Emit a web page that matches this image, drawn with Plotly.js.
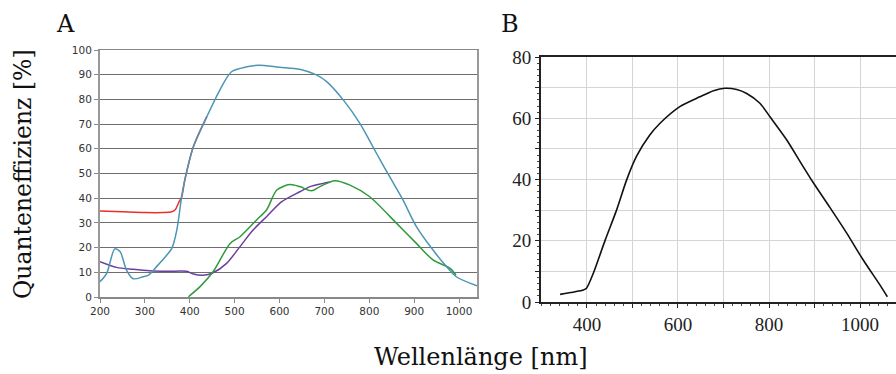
<!DOCTYPE html>
<html>
<head>
<meta charset="utf-8">
<script src="https://cdn.plot.ly/plotly-3.0.1.min.js"></script>
<style>html,body{margin:0;padding:0;background:#fff;}#chart{width:896px;height:374px;}</style>
</head>
<body>
<div id="chart"></div>
<script>
// Panel A: quantum efficiency curves (wavelength nm, efficiency %)
const blueX = [200, 215, 233, 245, 259, 274, 296, 308, 326, 349, 360, 371, 382, 389, 408, 438, 467, 493, 527, 553, 600, 645, 682, 705, 742, 779, 816, 846, 875, 905, 942, 972, 994, 1040];
const blueY = [6.2, 9.6, 19.5, 18.3, 10.9, 7.4, 8.2, 8.9, 12.3, 17.0, 19.7, 27.0, 40.6, 47.4, 60.8, 73.0, 83.8, 91.2, 93.2, 93.8, 93.0, 92.2, 89.9, 87.2, 79.8, 70.3, 58.2, 48.5, 39.3, 28.5, 19.0, 12.3, 8.2, 4.5];

const redX = [200, 250, 300, 340, 360, 367, 376, 382, 389, 408, 438];
const redY = [34.8, 34.5, 34.2, 34.2, 34.5, 35.2, 38.5, 40.6, 47.4, 60.8, 73.0];

const purpleX = [200, 237, 274, 311, 349, 393, 408, 430, 452, 482, 512, 541, 571, 605, 645, 668, 697, 712];
const purpleY = [14.3, 12.0, 11.2, 10.6, 10.4, 10.4, 9.3, 8.8, 9.8, 13.6, 20.4, 27.1, 32.5, 38.6, 42.6, 44.7, 46.0, 46.6];

const greenX = [397, 423, 452, 490, 512, 549, 571, 594, 623, 645, 671, 690, 723, 757, 801, 861, 905, 942, 980, 993];
const greenY = [0.1, 4.2, 10.2, 21.7, 24.4, 31.2, 35.2, 43.3, 45.5, 44.7, 43.0, 44.7, 47.1, 45.3, 40.6, 29.8, 21.7, 15.0, 11.6, 8.9];

// Panel B: quantum efficiency curve
const bX = [341, 392, 399, 414, 440, 465, 487, 509, 538, 560, 604, 648, 678, 703, 729, 751, 780, 802, 839, 875, 897, 934, 971, 1007, 1044, 1060];
const bY = [2.5, 3.9, 4.5, 9.4, 20.2, 30.0, 39.8, 47.6, 54.5, 58.3, 63.8, 67.0, 69.0, 69.8, 69.4, 68.1, 64.9, 60.5, 52.9, 44.2, 39.0, 30.8, 22.4, 13.7, 5.5, 1.7];

// Tick labels
const aXTicks = [200, 300, 400, 500, 600, 700, 800, 900, 1000];
const aYTicks = [0, 10, 20, 30, 40, 50, 60, 70, 80, 90, 100];
const bXTickVals = [400, 500, 600, 700, 800, 900, 1000];
const bXTickText = ['400', '', '600', '', '800', '', '1000'];
const bYTickVals = [0, 10, 20, 30, 40, 50, 60, 70, 80];
const bYTickText = ['0', '', '20', '', '40', '', '60', '', '80'];

const W = 896, H = 374;
const px = v => v / W;
const py = v => 1 - v / H;

const mk = (x, y, color, xa, ya, width, sm) => ({
  x: x, y: y, type: 'scatter', mode: 'lines', xaxis: xa, yaxis: ya,
  line: {color: color, width: width || 1.5, shape: 'spline', smoothing: sm || 0.8},
  hoverinfo: 'skip', showlegend: false
});

const traces = [
  mk(redX, redY, '#e8302a', 'x', 'y'),
  mk(purpleX, purpleY, '#6a3fa0', 'x', 'y'),
  mk(greenX, greenY, '#2f9a3a', 'x', 'y'),
  mk(blueX, blueY, '#4b95b5', 'x', 'y'),
  mk(bX, bY, '#111111', 'x2', 'y2', 1.6, 0.7)
];

const sans = {family: 'DejaVu Sans', size: 10.5, color: '#333'};
const serif = {family: 'Liberation Serif', size: 19, color: '#222'};

const layout = {
  width: W, height: H,
  margin: {l: 0, r: 0, t: 0, b: 0},
  paper_bgcolor: '#fff', plot_bgcolor: '#fff',
  showlegend: false,
  xaxis: {
    domain: [px(100), px(477)], range: [200, 1040],
    tickmode: 'array', tickvals: aXTicks, ticktext: aXTicks.map(String),
    ticks: 'outside', ticklen: 4, tickcolor: '#888',
    showline: true, linecolor: '#888', linewidth: 1.5, mirror: true,
    showgrid: false, zeroline: false, tickfont: sans, anchor: 'y'
  },
  yaxis: {
    domain: [py(297), py(50)], range: [0, 100],
    tickmode: 'array', tickvals: aYTicks, ticktext: aYTicks.map(String),
    ticks: 'outside', ticklen: 4, tickcolor: '#888',
    showline: true, linecolor: '#999', linewidth: 2, mirror: true,
    showgrid: true, gridcolor: '#6e6e6e', gridwidth: 1,
    zeroline: false, tickfont: sans, anchor: 'x'
  },
  xaxis2: {
    domain: [px(541), 1], range: [299, 1079],
    tickmode: 'array', tickvals: bXTickVals, ticktext: bXTickText,
    ticks: 'outside', ticklen: 4, tickcolor: '#222',
    minor: {dtick: 20, tick0: 300, ticks: 'outside', ticklen: 2, tickcolor: '#444', showgrid: false},
    showline: true, linecolor: '#222', linewidth: 2, mirror: true,
    showgrid: true, gridcolor: '#d4d4d4', gridwidth: 1,
    zeroline: false, tickfont: serif, anchor: 'y2'
  },
  yaxis2: {
    domain: [py(302), py(57)], range: [0, 80],
    tickmode: 'array', tickvals: bYTickVals, ticktext: bYTickText,
    ticks: 'outside', ticklen: 4, tickcolor: '#222',
    minor: {dtick: 2, tick0: 0, ticks: 'outside', ticklen: 2, tickcolor: '#444', showgrid: false},
    showline: true, linecolor: '#222', linewidth: 2, mirror: false,
    showgrid: true, gridcolor: '#d4d4d4', gridwidth: 1,
    zeroline: false, tickfont: serif, anchor: 'x2'
  },
  annotations: [
    {text: 'A', x: px(65), y: py(24), xref: 'paper', yref: 'paper', showarrow: false,
     xanchor: 'center', yanchor: 'middle', font: {family: 'DejaVu Serif', size: 24, color: '#111'}},
    {text: 'B', x: px(510), y: py(24), xref: 'paper', yref: 'paper', showarrow: false,
     xanchor: 'center', yanchor: 'middle', font: {family: 'DejaVu Serif', size: 24, color: '#111'}},
    {text: 'Wellenlänge [nm]', x: px(481), y: py(357), xref: 'paper', yref: 'paper', showarrow: false,
     xanchor: 'center', yanchor: 'middle', font: {family: 'DejaVu Serif', size: 24, color: '#111'}},
    {text: 'Quanteneffizienz [%]', x: px(23), y: py(174), xref: 'paper', yref: 'paper', showarrow: false,
     textangle: -90, xanchor: 'center', yanchor: 'middle', font: {family: 'DejaVu Serif', size: 23.5, color: '#111'}}
  ]
};

Plotly.newPlot('chart', traces, layout, {staticPlot: true, displayModeBar: false});
</script>
</body>
</html>
